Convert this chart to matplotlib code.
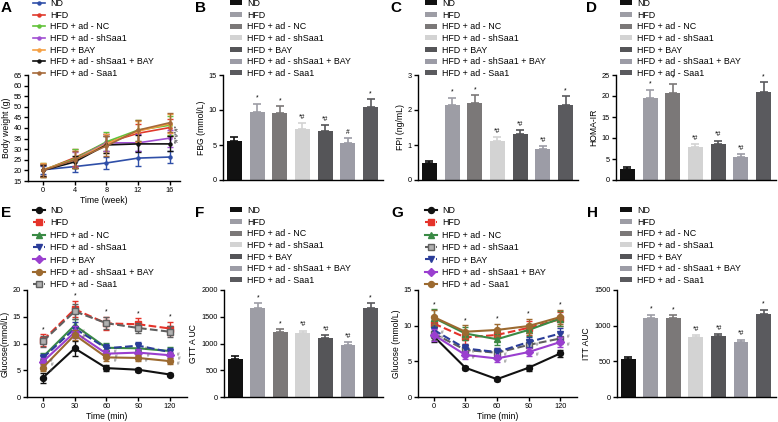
import matplotlib
matplotlib.use("Agg")
import matplotlib.pyplot as plt
import numpy as np

plt.rcParams["font.family"] = ["Liberation Sans", "DejaVu Sans"]
plt.rcParams["axes.linewidth"] = 1.0

W, H = 778, 422

groups = [
    "ND",
    "HFD",
    "HFD + ad - NC",
    "HFD + ad - shSaa1",
    "HFD + BAY",
    "HFD + ad - shSaa1 + BAY",
    "HFD + ad - Saa1",
]

# A - body weight
weeks = [0, 4, 8, 12, 16]
bw_mean = [
    [20.3, 21.8, 23.5, 25.8, 26.3],
    [20.0, 26.0, 33.0, 37.5, 40.2],
    [20.2, 25.5, 33.5, 39.0, 41.3],
    [20.0, 25.0, 33.0, 33.0, 35.2],
    [20.3, 25.0, 32.5, 38.5, 42.0],
    [20.0, 24.0, 32.0, 32.5, 32.5],
    [20.0, 25.0, 31.5, 39.0, 42.5],
]
bw_err = [
    [2.0, 2.5, 3.0, 3.5, 3.0],
    [3.0, 4.0, 4.0, 4.5, 4.0],
    [3.5, 4.5, 4.5, 5.0, 4.5],
    [2.5, 3.5, 4.0, 4.0, 4.0],
    [3.0, 4.0, 4.5, 5.0, 4.5],
    [2.5, 3.0, 4.0, 4.0, 3.5],
    [3.0, 4.0, 4.5, 5.0, 4.5],
]
bw_colors = ["#2f4fa8", "#e0392b", "#62c23a", "#a14fd2", "#f5a043", "#111111", "#a5693a"]

# B, C, D, F, H - bar charts
bar_colors = ["#111111", "#9d9da5", "#7b7878", "#d3d3d3", "#555558", "#9c9ca6", "#5a5a5e"]
fbg = [5.55, 9.65, 9.5, 7.3, 7.05, 5.35, 10.4]
fbg_err = [0.6, 1.25, 1.0, 0.8, 0.75, 0.65, 1.1]
fbg_sig = ["", "*", "*", "*#", "*#", "#", "*"]
fpi = [0.48, 2.13, 2.2, 1.11, 1.31, 0.88, 2.15]
fpi_err = [0.05, 0.22, 0.22, 0.13, 0.13, 0.1, 0.25]
fpi_sig = ["", "*", "*", "*#", "*#", "*#", "*"]
homa = [2.7, 19.5, 20.8, 7.8, 8.5, 5.5, 21.0]
homa_err = [0.35, 2.0, 2.1, 0.8, 0.9, 0.6, 2.3]
homa_sig = ["", "*", "*", "*#", "*#", "*#", "*"]
gtt_auc = [706, 1656, 1206, 1187, 1094, 981, 1656]
gtt_auc_err = [60, 95, 65, 55, 60, 50, 100]
gtt_auc_sig = ["", "*", "*", "*#", "*#", "*#", "*"]
itt_auc = [535, 1108, 1108, 835, 859, 765, 1165]
itt_auc_err = [25, 45, 40, 35, 30, 40, 55]
itt_auc_sig = ["", "*", "*", "*#", "*#", "*#", "*"]

# E - GTT
minutes = [0, 30, 60, 90, 120]
gtt_mean = [
    [3.6, 9.1, 5.4, 5.1, 4.2],
    [10.6, 16.4, 13.75, 13.6, 12.8],
    [7.5, 13.4, 9.2, 9.1, 8.6],
    [7.3, 12.8, 9.1, 9.6, 8.4],
    [6.6, 12.1, 8.1, 8.3, 7.8],
    [5.5, 11.6, 7.4, 7.3, 6.7],
    [10.4, 16.0, 13.8, 12.9, 12.2],
]
gtt_err = [
    [0.9, 1.4, 0.5, 0.4, 0.3],
    [1.1, 1.5, 1.2, 1.1, 1.2],
    [0.8, 1.2, 0.9, 0.8, 0.7],
    [0.8, 1.2, 0.8, 0.7, 0.7],
    [0.7, 1.1, 0.7, 0.6, 0.6],
    [0.6, 1.0, 0.6, 0.6, 0.5],
    [1.0, 1.4, 1.1, 1.0, 1.0],
]
gtt_colors = ["#111111", "#e5332a", "#3a8a45", "#2b3d99", "#9a3fcf", "#9c6a30", "#606060"]
gtt_styles = ["-", "--", "-", "--", "-", "-", "--"]
gtt_markers = ["o", "s", "^", "v", "D", "o", "s"]

# G - ITT
itt_mean = [
    [8.5, 4.1, 2.5, 4.1, 6.1],
    [10.3, 8.35, 8.7, 9.7, 10.9],
    [11.1, 8.9, 8.1, 9.4, 11.0],
    [8.9, 6.6, 6.2, 7.3, 8.2],
    [9.4, 6.8, 6.3, 7.7, 8.9],
    [8.7, 5.9, 5.4, 6.3, 7.7],
    [11.2, 9.15, 9.4, 9.95, 11.2],
]
itt_err = [
    [0.8, 0.3, 0.2, 0.4, 0.5],
    [1.0, 0.9, 0.9, 1.0, 1.0],
    [1.2, 0.9, 0.8, 0.9, 1.0],
    [0.9, 0.7, 0.7, 0.7, 0.8],
    [0.9, 0.6, 0.6, 0.7, 0.8],
    [0.8, 0.6, 0.5, 0.6, 0.7],
    [1.0, 0.9, 0.9, 1.0, 1.0],
]
itt_colors = ["#111111", "#e5332a", "#3a8a45", "#606060", "#2b3d99", "#9a3fcf", "#9c6a30"]
itt_styles = ["-", "--", "-", "--", "--", "-", "-"]
itt_markers = ["o", "s", "^", "s", "v", "D", "o"]

FS = 6.4      # legend text
TFS = 5.3     # tick labels
LFS = 6.2     # axis labels

fig = plt.figure(figsize=(W / 100, H / 100), dpi=100)


def px_axes(left, top, right, bottom):
    ax = fig.add_axes([left / W, 1 - bottom / H, (right - left) / W, (bottom - top) / H])
    for s in ("top", "right"):
        ax.spines[s].set_visible(False)
    ax.tick_params(direction="out", length=3, width=1, labelsize=TFS, pad=1.5)
    return ax


def legend_at(ax, handles, x, y, bars=False, spacing=0.3):
    ax.legend(
        handles, groups, loc="upper left",
        bbox_to_anchor=(x / W, 1 - y / H), bbox_transform=fig.transFigure,
        frameon=False, fontsize=FS, borderpad=0, borderaxespad=0,
        labelspacing=spacing, handlelength=1.4, handletextpad=0.55,
        handleheight=0.45 if bars else 0.7, numpoints=1,
    )


def bar_panel(box, vals, errs, sigs, ymax, step, ylabel, legend_xy):
    ax = px_axes(*box)
    x = np.arange(len(vals))
    bars = ax.bar(x, vals, width=0.66, color=bar_colors, zorder=2)
    for xi, v, e, c, s in zip(x, vals, errs, bar_colors, sigs):
        ax.errorbar([xi], [v], yerr=[[0], [e]], fmt="none", ecolor=c,
                    elinewidth=1.2, capsize=3, capthick=1.2, zorder=1)
        if s:
            ax.annotate(s, (xi, v + e), xytext=(0, 1.5), textcoords="offset points",
                        ha="center", va="bottom", fontsize=4.8)
    ax.set_xlim(-0.5, len(vals) - 0.45)
    ax.set_ylim(0, ymax)
    ax.set_yticks(np.arange(0, ymax + step / 2, step))
    ax.set_xticks([])
    ax.set_ylabel(ylabel, fontsize=LFS, labelpad=2)
    legend_at(ax, list(bars.patches), *legend_xy, bars=True)
    return ax


def line_panel(box, xs, means, errs, colors, styles, markers, ms, lw):
    ax = px_axes(*box)
    handles = []
    for m, e, c, ls, mk in zip(means, errs, colors, styles, markers):
        ax.errorbar(xs, m, yerr=e, fmt="none", ecolor=c, elinewidth=1.0,
                    capsize=2, capthick=1.0)
        face = "#b0b0b0" if (c == "#606060" and mk == "s") else c
        h, = ax.plot(xs, m, color=c, ls=ls, lw=lw, marker=mk, ms=ms,
                     mfc=face, mec=c)
        handles.append(h)
    return ax, handles


def hash_marks(ax, xs, means, offsets):
    for m, dx in zip(means, offsets):
        for t, v in zip(xs, m):
            ax.annotate("#", (t, v), xytext=(dx, -2), textcoords="offset points",
                        ha="center", va="center", fontsize=3.3, color="#555555")


# ---- A
axA, hA = line_panel((28, 75, 180, 181), weeks, bw_mean, bw_err, bw_colors,
                     ["-"] * 7, ["o"] * 7, 2.2, 1.2)
axA.set_xlim(-1.9, 17.3)
axA.set_ylim(15, 65)
axA.set_yticks(range(15, 66, 5))
axA.set_xticks(weeks)
axA.set_xlabel("Time (week)", fontsize=LFS, labelpad=1.5)
axA.set_ylabel("Body weight (g)", fontsize=LFS, labelpad=2)
axA.text(17.0, 37.5, "*#*#*#*", rotation=90, fontsize=4.2, ha="center", va="center")
legend_at(axA, hA, 33, -1)

# ---- B, C, D
bar_panel((223, 75, 383, 180), fbg, fbg_err, fbg_sig, 15, 5, "FBG (mmol/L)", (230, -1))
bar_panel((418, 75, 578, 180), fpi, fpi_err, fpi_sig, 3, 1, "FPI (ng/mL)", (425, -1))
bar_panel((616, 75, 776, 180), homa, homa_err, homa_sig, 25, 5, "HOMA-IR", (620, -1))

# ---- E
axE, hE = line_panel((27, 290, 187, 397), minutes, gtt_mean, gtt_err, gtt_colors,
                     gtt_styles, gtt_markers, 4.3, 1.5)
axE.set_xlim(-15, 136)
axE.set_ylim(0, 20)
axE.set_yticks(range(0, 21, 5))
axE.set_xticks(minutes)
axE.set_xlabel("Time (min)", fontsize=LFS, labelpad=1)
axE.set_ylabel("Glucose(mmol/L)", fontsize=LFS, labelpad=2)
for t, m, e in zip(minutes, gtt_mean[1], gtt_err[1]):
    axE.annotate("*", (t, m + e), xytext=(0, 1), textcoords="offset points",
                 ha="center", va="bottom", fontsize=4.8)
hash_marks(axE, minutes, [gtt_mean[3], gtt_mean[4], gtt_mean[5]], [6, 7, 6])
legend_at(axE, hE, 33, 206, spacing=0.38)

# ---- F
bar_panel((224, 290, 383, 397), gtt_auc, gtt_auc_err, gtt_auc_sig, 2000, 500,
          "GTT A UC", (230, 206))

# ---- G
axG, hG = line_panel((418, 290, 577, 397), minutes, itt_mean, itt_err, itt_colors,
                     itt_styles, itt_markers, 4.3, 1.5)
axG.set_xlim(-15, 136)
axG.set_ylim(0, 15)
axG.set_yticks(range(0, 16, 5))
axG.set_xticks(minutes)
axG.set_xlabel("Time (min)", fontsize=LFS, labelpad=1)
axG.set_ylabel("Glucose (mmol/L)", fontsize=LFS, labelpad=2)
for t, m, e in zip(minutes, itt_mean[6], itt_err[6]):
    axG.annotate("*", (t, m + e), xytext=(0, 1), textcoords="offset points",
                 ha="center", va="bottom", fontsize=4.8)
hash_marks(axG, minutes, [itt_mean[4], itt_mean[5]], [6, 6])
legend_at(axG, hG, 425, 206, spacing=0.38)

# ---- H
bar_panel((617, 290, 776, 397), itt_auc, itt_auc_err, itt_auc_sig, 1500, 500,
          "ITT AUC", (620, 206))

for letter, x, y in [("A", 1, 8), ("B", 195, 8), ("C", 390, 8), ("D", 586, 8),
                     ("E", 1, 213), ("F", 195, 213), ("G", 391, 213), ("H", 587, 213)]:
    fig.text(x / W, 1 - y / H, letter, fontsize=11, fontweight="bold",
             ha="left", va="center")

fig.savefig("out.png", dpi=100)
